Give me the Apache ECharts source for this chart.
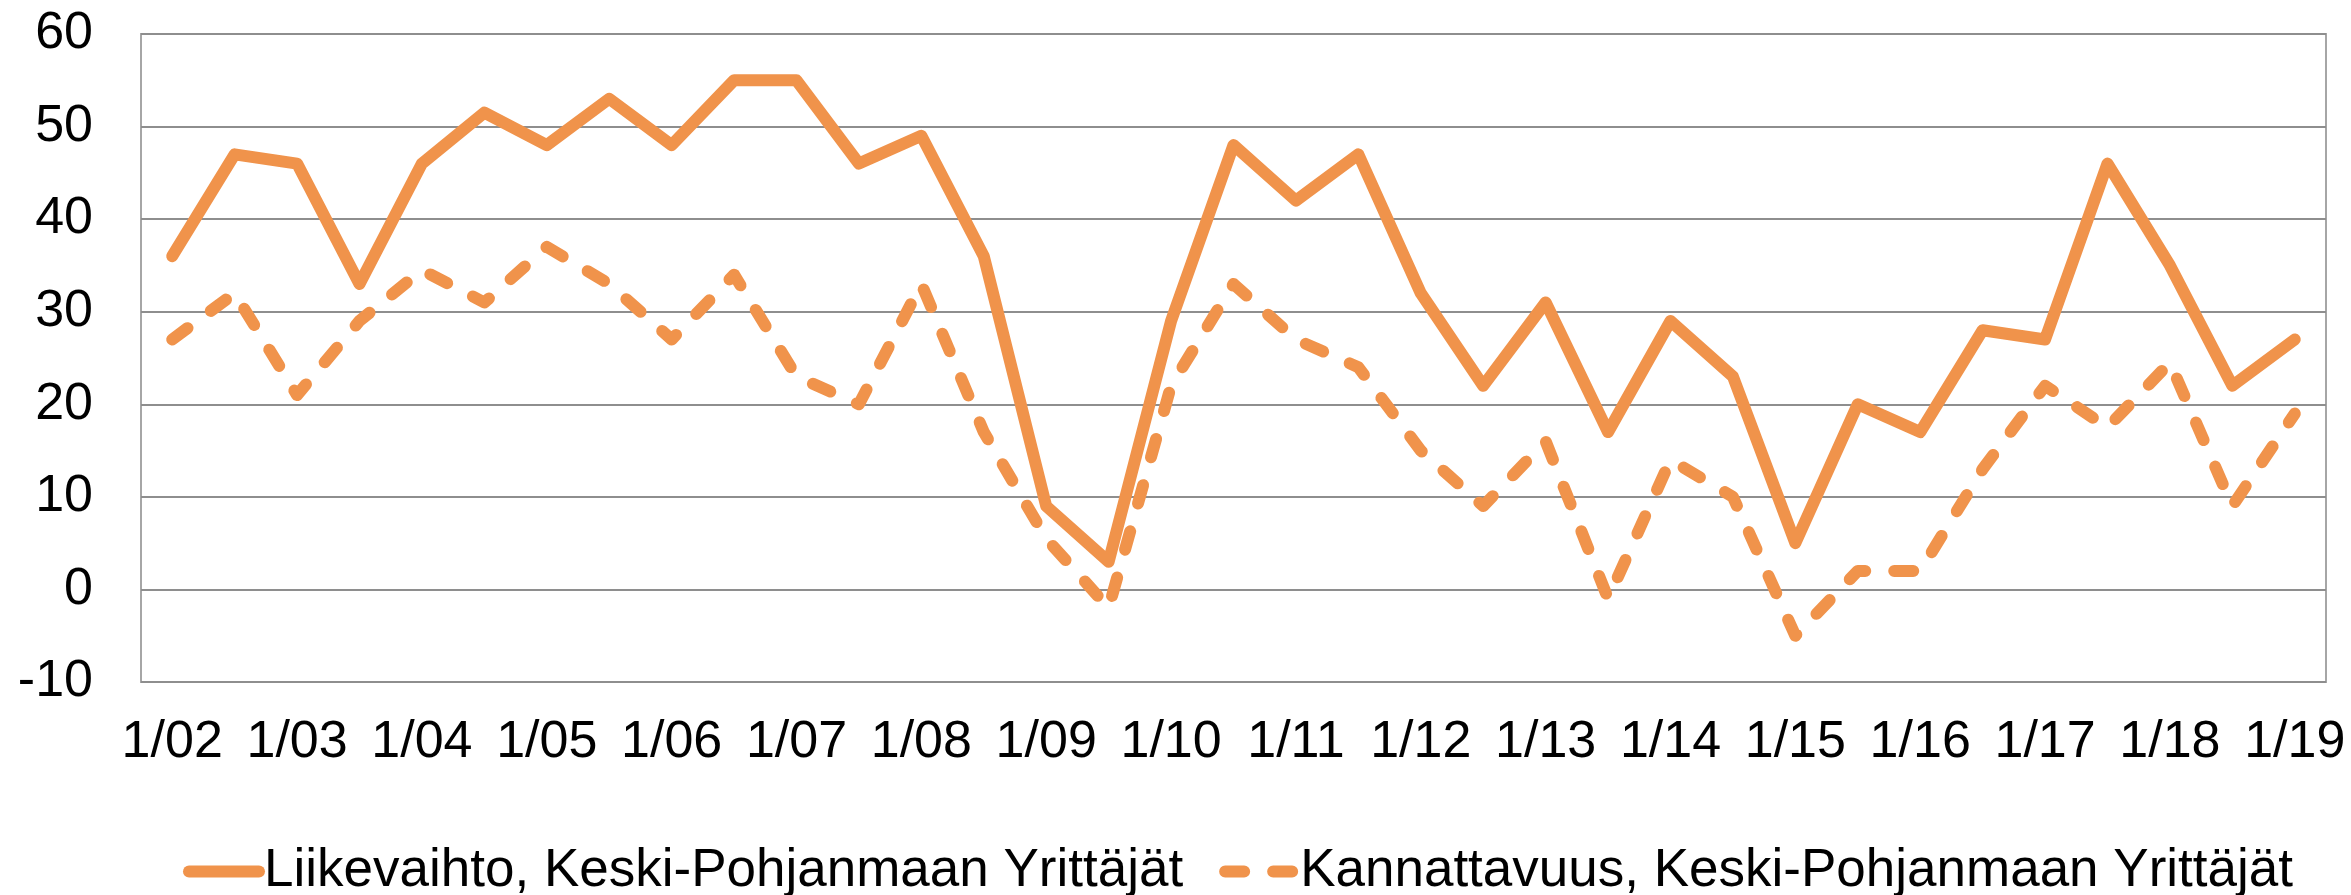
<!DOCTYPE html>
<html>
<head>
<meta charset="utf-8">
<script src="https://cdn.jsdelivr.net/npm/echarts@6/dist/echarts.min.js"></script>
<style>
  html, body { margin: 0; padding: 0; background: #fff; }
  #chart { width: 2351px; height: 895px; }
</style>
</head>
<body>
<div id="chart"></div>
<script>
// puolivuosittaiset havainnot, 1/02 ... 1/19
var categories = ['1/02', '7/02', '1/03', '7/03', '1/04', '7/04', '1/05', '7/05', '1/06', '7/06',
    '1/07', '7/07', '1/08', '7/08', '1/09', '7/09', '1/10', '7/10', '1/11', '7/11',
    '1/12', '7/12', '1/13', '7/13', '1/14', '7/14', '1/15', '7/15', '1/16', '7/16',
    '1/17', '7/17', '1/18', '7/18', '1/19'];

var liikevaihto = [36, 47, 46, 33, 46, 51.5, 48, 53, 48, 55,
    55, 46, 49, 36, 9, 3, 29, 48, 42, 47,
    32, 22, 31, 17, 29, 23, 5, 20, 17, 28,
    27, 46, 35, 22, 27];

var kannattavuus = [27, 32, 21, 29, 34.5, 31, 37, 33, 27, 34,
    23, 20, 33, 17, 5.5, -2, 22, 33, 27, 24,
    15, 9, 16, -1, 14, 10, -5, 2, 2, 13,
    22, 17.5, 24.5, 9, 19];

var seriesNames = ['Liikevaihto, Keski-Pohjanmaan Yrittäjät', 'Kannattavuus, Keski-Pohjanmaan Yrittäjät'];

var orange = '#F0934B';
var fontFam = '"Liberation Sans", Arial, sans-serif';

var myChart = echarts.init(document.getElementById('chart'));

var option = {
    backgroundColor: '#ffffff',
    animation: false,
    textStyle: { fontFamily: fontFam },
    grid: {
        left: 141,
        right: 25,
        top: 34,
        bottom: 213,
        show: true,
        borderColor: '#A6A6A6',
        borderWidth: 2
    },
    legend: {
        left: 178,
        top: 840,
        itemWidth: 70,
        itemHeight: 14,
        itemGap: 36,
        itemStyle: { opacity: 0 },
        lineStyle: { width: 'inherit', cap: 'inherit' },
        textStyle: { fontSize: 53, color: '#000', fontFamily: fontFam },
        data: seriesNames
    },
    xAxis: {
        type: 'category',
        data: categories,
        boundaryGap: true,
        axisLine: { show: false },
        axisTick: { show: false },
        axisLabel: {
            interval: 1,
            margin: 35,
            fontSize: 52,
            color: '#000',
            fontFamily: fontFam
        }
    },
    yAxis: {
        type: 'value',
        min: -10,
        max: 60,
        interval: 10,
        axisLine: { show: false },
        axisTick: { show: false },
        axisLabel: {
            margin: 48,
            fontSize: 52,
            color: '#000',
            fontFamily: fontFam
        },
        splitLine: { lineStyle: { color: '#8E8E8E', width: 2 } }
    },
    series: [
        {
            name: seriesNames[0],
            type: 'line',
            data: liikevaihto,
            showSymbol: false,
            symbol: 'none',
            itemStyle: { color: orange },
            lineStyle: { color: orange, width: 12, join: 'round', cap: 'round' }
        },
        {
            name: seriesNames[1],
            type: 'line',
            data: kannattavuus,
            showSymbol: false,
            symbol: 'none',
            itemStyle: { color: orange },
            lineStyle: { color: orange, width: 12, type: [19, 29], cap: 'round', join: 'round' }
        }
    ]
};

myChart.setOption(option);
</script>
</body>
</html>
